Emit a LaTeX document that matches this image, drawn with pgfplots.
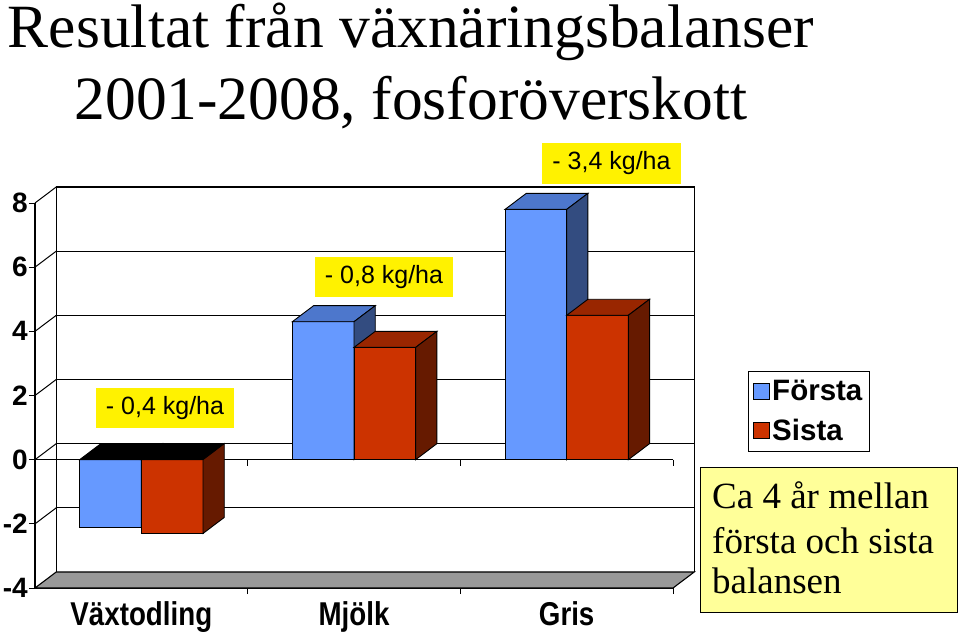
\documentclass[border=0pt]{standalone}
\usepackage{fontspec}
\setmainfont{Liberation Serif}
\newfontfamily\arial{Liberation Sans}
\newfontfamily\arialn[FakeStretch=0.84]{Liberation Sans}
\usepackage{pgfplots}
\pgfplotsset{compat=1.18}
\definecolor{bF}{HTML}{6699FF}
\definecolor{bT}{HTML}{4D77CC}
\definecolor{bS}{HTML}{334C80}
\definecolor{rF}{HTML}{CC3300}
\definecolor{rT}{HTML}{992600}
\definecolor{rS}{HTML}{661A00}
\definecolor{floorgray}{HTML}{999999}
\definecolor{noteyellow}{HTML}{FFFF99}
\begin{document}
\begin{tikzpicture}
\useasboundingbox (0pt,0pt) rectangle (960pt,633pt);
\begin{axis}[
  at={(35pt,45pt)}, anchor=south west,
  scale only axis, width=638pt, height=385pt,
  xmin=0, xmax=3, ymin=-4, ymax=8,
  clip=false,
  axis x line=bottom, axis y line=left,
  axis line style={-, black, line width=1.1pt},
  tick align=outside, major tick length=6pt,
  tick style={black, line width=1pt},
  xtick={1,2,3}, xticklabels={,,},
  extra x ticks={0.5,1.5,2.5},
  extra x tick labels={Växtodling,Mjölk,Gris},
  extra x tick style={major tick length=0pt,
    xticklabel style={font=\arialn\bfseries\fontsize{33}{35}\selectfont, anchor=base, yshift=-37pt}},
  ytick={-4,-2,0,2,4,6,8},
  yticklabels={-4,-2,0,2,4,6,8},
  yticklabel style={font=\arial\bfseries\fontsize{28}{30}\selectfont, inner sep=1pt},
  legend style={at={(1.1176,0.5636)}, anchor=north west, draw=black, line width=0.8pt,
    font=\arial\bfseries\fontsize{29.5}{31}\selectfont, inner xsep=5pt, inner ysep=7pt,
    row sep=13pt, nodes={inner sep=2pt}},
  legend cell align=left,
]
% back wall and side lines
\draw[black, line width=1.1pt] (axis cs:0.1,-3.5) -- (axis cs:0.1,8.5) -- (axis cs:3.1,8.5) -- (axis cs:3.1,-3.5);
\pgfplotsinvokeforeach{-1.5,0.5,2.5,4.5,6.5}{
  \draw[black, line width=1pt] (axis cs:0.1,#1) -- (axis cs:3.1,#1);
}
\pgfplotsinvokeforeach{-2,0,2,4,6,8}{
  \draw[black, line width=1pt] (axis cs:0,#1) -- (axis cs:0.1,#1+0.5);
}
% floor
\draw[black, line width=1.1pt, fill=floorgray] (axis cs:0,-4) -- (axis cs:3,-4) -- (axis cs:3.1,-3.5) -- (axis cs:0.1,-3.5) -- cycle;
% zero plane front line with ticks
\draw[black, line width=1.1pt] (axis cs:0,0) -- (axis cs:3,0);
\pgfplotsinvokeforeach{1,2,3}{
  \draw[black, line width=1pt] (axis cs:#1,0) -- ++(0pt,-6pt);
}
% Första front faces
\addplot[ybar, bar width=0.29, bar shift=0pt, fill=bF, draw=black, line width=0.9pt,
  legend image code/.code={\draw[fill=bF, draw=black, line width=0.8pt] (0pt,-8pt) rectangle (16pt,8pt);}]
  coordinates {(0.355,-2.1) (1.355,4.3) (2.355,7.8)};
\addlegendentry{Första}
% Första top faces
\addplot[forget plot, fill=black, draw=black, line width=0.9pt] coordinates {(0.21,0) (0.50,0) (0.60,0.5) (0.31,0.5)} -- cycle;
\addplot[forget plot, fill=bT, draw=black, line width=0.9pt] coordinates {(1.21,4.3) (1.50,4.3) (1.60,4.8) (1.31,4.8)} -- cycle;
\addplot[forget plot, fill=bT, draw=black, line width=0.9pt] coordinates {(2.21,7.8) (2.50,7.8) (2.60,8.3) (2.31,8.3)} -- cycle;
% Första side faces
\addplot[forget plot, fill=bS, draw=black, line width=0.9pt] coordinates {(0.50,-2.1) (0.60,-1.6) (0.60,0.5) (0.50,0)} -- cycle;
\addplot[forget plot, fill=bS, draw=black, line width=0.9pt] coordinates {(1.50,0) (1.50,4.3) (1.60,4.8) (1.60,0.5)} -- cycle;
\addplot[forget plot, fill=bS, draw=black, line width=0.9pt] coordinates {(2.50,0) (2.50,7.8) (2.60,8.3) (2.60,0.5)} -- cycle;
% Sista front faces
\addplot[ybar, bar width=0.29, bar shift=0pt, fill=rF, draw=black, line width=0.9pt,
  legend image code/.code={\draw[fill=rF, draw=black, line width=0.8pt] (0pt,-8pt) rectangle (16pt,8pt);}]
  coordinates {(0.645,-2.3) (1.645,3.5) (2.645,4.5)};
\addlegendentry{Sista}
% Sista top faces
\addplot[forget plot, fill=black, draw=black, line width=0.9pt] coordinates {(0.50,0) (0.79,0) (0.89,0.5) (0.60,0.5)} -- cycle;
\addplot[forget plot, fill=rT, draw=black, line width=0.9pt] coordinates {(1.50,3.5) (1.79,3.5) (1.89,4.0) (1.60,4.0)} -- cycle;
\addplot[forget plot, fill=rT, draw=black, line width=0.9pt] coordinates {(2.50,4.5) (2.79,4.5) (2.89,5.0) (2.60,5.0)} -- cycle;
% Sista side faces
\addplot[forget plot, fill=rS, draw=black, line width=0.9pt] coordinates {(0.79,-2.3) (0.89,-1.8) (0.89,0.5) (0.79,0)} -- cycle;
\addplot[forget plot, fill=rS, draw=black, line width=0.9pt] coordinates {(1.79,0) (1.79,3.5) (1.89,4.0) (1.89,0.5)} -- cycle;
\addplot[forget plot, fill=rS, draw=black, line width=0.9pt] coordinates {(2.79,0) (2.79,4.5) (2.89,5.0) (2.89,0.5)} -- cycle;
\end{axis}
% title
\node[anchor=base, font=\fontsize{61.5}{70}\selectfont, inner sep=0pt] at (411pt,585pt) {Resultat från växnäringsbalanser};
\node[anchor=base, font=\fontsize{61.5}{70}\selectfont, inner sep=0pt] at (411pt,513pt) {2001-2008, fosforöverskott};
% difference labels
\node[fill=yellow, minimum width=138pt, minimum height=40pt, inner sep=0pt, font=\arial\fontsize{25}{27}\selectfont] at (165pt,225pt) {- 0,4 kg/ha};
\node[fill=yellow, minimum width=138pt, minimum height=40pt, inner sep=0pt, font=\arial\fontsize{25}{27}\selectfont] at (384pt,356pt) {- 0,8 kg/ha};
\node[fill=yellow, minimum width=139pt, minimum height=41pt, inner sep=0pt, font=\arial\fontsize{25}{27}\selectfont] at (611.5pt,469.5pt) {- 3,4 kg/ha};
% note box
\draw[black, line width=1pt, fill=noteyellow] (700pt,166pt) rectangle (957pt,21pt);
\node[anchor=base west, inner sep=0pt, font=\fontsize{37}{43}\selectfont] at (712pt,125pt) {Ca 4 år mellan};
\node[anchor=base west, inner sep=0pt, font=\fontsize{37}{43}\selectfont] at (712pt,80pt) {första och sista};
\node[anchor=base west, inner sep=0pt, font=\fontsize{37}{43}\selectfont] at (712pt,40pt) {balansen};
\end{tikzpicture}
\end{document}
